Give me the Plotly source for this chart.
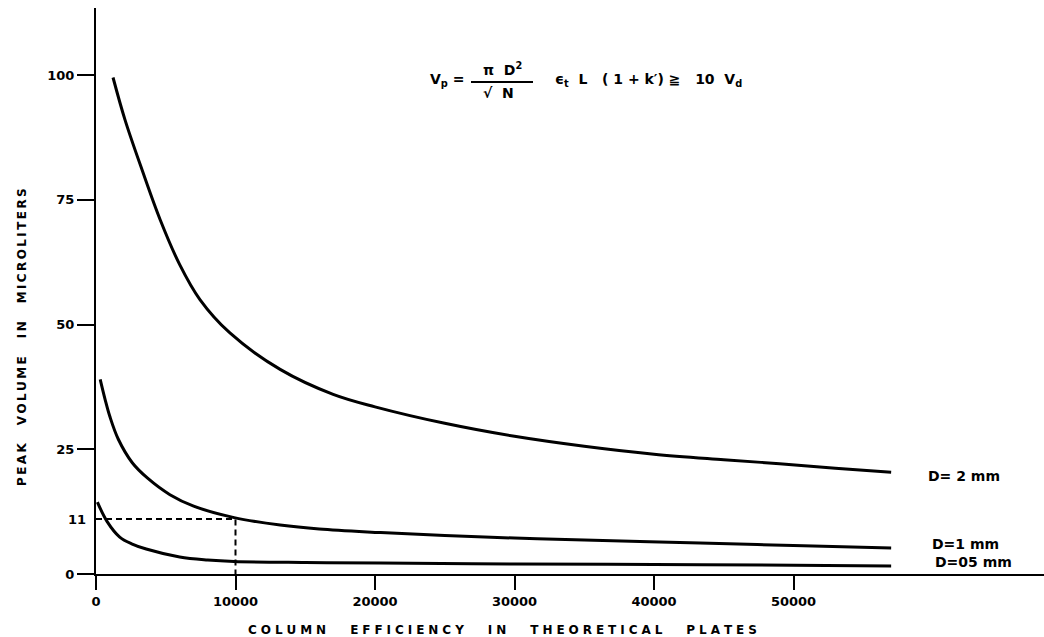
import plotly.graph_objects as go

# ---- data ----
n_d2 = [1220, 2080, 3300, 4600, 6000, 7450, 9600, 13200, 17000, 20000, 25000, 30000, 35000, 40000, 45000, 49000, 53000, 57000]
v_d2 = [99.5, 91, 81, 71, 62, 55, 48.3, 41, 36, 33.5, 30.2, 27.6, 25.6, 24, 22.9, 22.1, 21.2, 20.4]

n_d1 = [300, 650, 1000, 1600, 2600, 3700, 5300, 7000, 9900, 13200, 16000, 20400, 25000, 30000, 35000, 43300, 50000, 57000]
v_d1 = [39, 35, 31.5, 27, 22.3, 19.2, 15.9, 13.6, 11.3, 9.8, 9.0, 8.3, 7.7, 7.2, 6.8, 6.2, 5.7, 5.2]

n_d05 = [100, 800, 1700, 2600, 3600, 6000, 8000, 9900, 15000, 20400, 30000, 40000, 50000, 57000]
v_d05 = [14.4, 10.5, 7.4, 6.0, 5.0, 3.4, 2.8, 2.5, 2.3, 2.2, 2.0, 1.9, 1.75, 1.6]

ref_n = 10000
ref_v = 11

x_ticks = [0, 10000, 20000, 30000, 40000, 50000]
y_ticks = [0, 25, 50, 75, 100]
curve_labels = ["D= 2 mm", "D=1 mm", "D=05 mm"]
x_title = "COLUMN EFFICIENCY IN THEORETICAL PLATES"
y_title = "PEAK VOLUME IN MICROLITERS"

# ---- layout geometry (pixels) ----
W, H = 1044, 637
L, R, T, B = 96, 0, 8, 63
pw, ph = W - L - R, H - T - B


def px(x):
    return (x - L) / pw


def py(y):
    return (H - B - y) / ph


def spaced(s, gap, wordgap):
    return wordgap.join(gap.join(list(w)) for w in s.split(" "))


BLK = "black"
tickfont = dict(family="DejaVu Sans", size=13, color=BLK, weight="bold")
lblfont = dict(family="DejaVu Sans", size=14, color=BLK, weight="bold")
titlefont = dict(family="DejaVu Sans", size=12, color=BLK, weight="bold")

fig = go.Figure()
for n, v in [(n_d2, v_d2), (n_d1, v_d1), (n_d05, v_d05)]:
    fig.add_trace(go.Scatter(x=n, y=v, mode="lines", line=dict(color=BLK, width=3, shape="spline", smoothing=1.0),
                             showlegend=False, hoverinfo="skip"))

fig.add_trace(go.Scatter(x=[0, ref_n, ref_n], y=[ref_v, ref_v, 0], mode="lines",
                         line=dict(color=BLK, width=2, dash="6px,4px"), showlegend=False, hoverinfo="skip"))

ann = []
for txt, xpix, ypix in zip(curve_labels, [926, 930, 933], [476, 544, 562]):
    ann.append(dict(text=txt, xref="paper", yref="paper", x=px(xpix), y=py(ypix), xanchor="left",
                    yanchor="middle", showarrow=False, font=lblfont))
ann.append(dict(text=str(ref_v), xref="paper", yref="y", x=0, y=ref_v, xanchor="right", xshift=-8,
                yanchor="middle", showarrow=False, font=tickfont))
# axis titles
ann.append(dict(text=spaced(x_title, "\u2004", "\u2003\u2003"), xref="paper", yref="paper",
                x=px(502), y=py(630), xanchor="center", yanchor="middle", showarrow=False, font=titlefont))
ann.append(dict(text=spaced(y_title, "\u2009", "\u2003\u2002"), xref="paper", yref="paper",
                x=px(22), y=py(337), xanchor="center", yanchor="middle", textangle=-90, showarrow=False,
                font=titlefont))
# formula
ffont = dict(family="DejaVu Sans", size=14, color=BLK, weight="bold")
ann.append(dict(text="V<sub>p</sub> =", xref="paper", yref="paper", x=px(428), y=py(80), xanchor="left",
                yanchor="middle", showarrow=False, font=ffont))
ann.append(dict(text="π  D<sup>2</sup>", xref="paper", yref="paper", x=px(502), y=py(69), xanchor="center",
                yanchor="middle", showarrow=False, font=ffont))
ann.append(dict(text="√  N", xref="paper", yref="paper", x=px(498), y=py(93), xanchor="center",
                yanchor="middle", showarrow=False, font=ffont))
ann.append(dict(text="ϵ<sub>t</sub>  L   ( 1 + k′) ≧   10  V<sub>d</sub>", xref="paper", yref="paper",
                x=px(553), y=py(80), xanchor="left", yanchor="middle", showarrow=False, font=ffont))

shapes = [dict(type="line", xref="paper", yref="paper", x0=px(471), x1=px(533), y0=py(82), y1=py(82),
               line=dict(color=BLK, width=2))]

fig.update_layout(
    width=W, height=H,
    margin=dict(l=L, r=R, t=T, b=B),
    paper_bgcolor="white", plot_bgcolor="white",
    annotations=ann, shapes=shapes,
    xaxis=dict(range=[0, (W - L) / 0.013950], tickvals=x_ticks, ticktext=[str(t) for t in x_ticks],
               showgrid=False, zeroline=False, showline=True, linecolor=BLK, linewidth=2,
               ticks="outside", ticklen=14, tickwidth=2, tickcolor=BLK, tickfont=tickfont),
    yaxis=dict(range=[0, (H - B - T) / 4.99], tickvals=y_ticks, ticktext=[str(t) for t in y_ticks],
               showgrid=False, zeroline=False, showline=True, linecolor=BLK, linewidth=2,
               ticks="outside", ticklen=17, tickwidth=2, tickcolor=BLK, tickfont=tickfont),
)

fig.write_html("out.html")
